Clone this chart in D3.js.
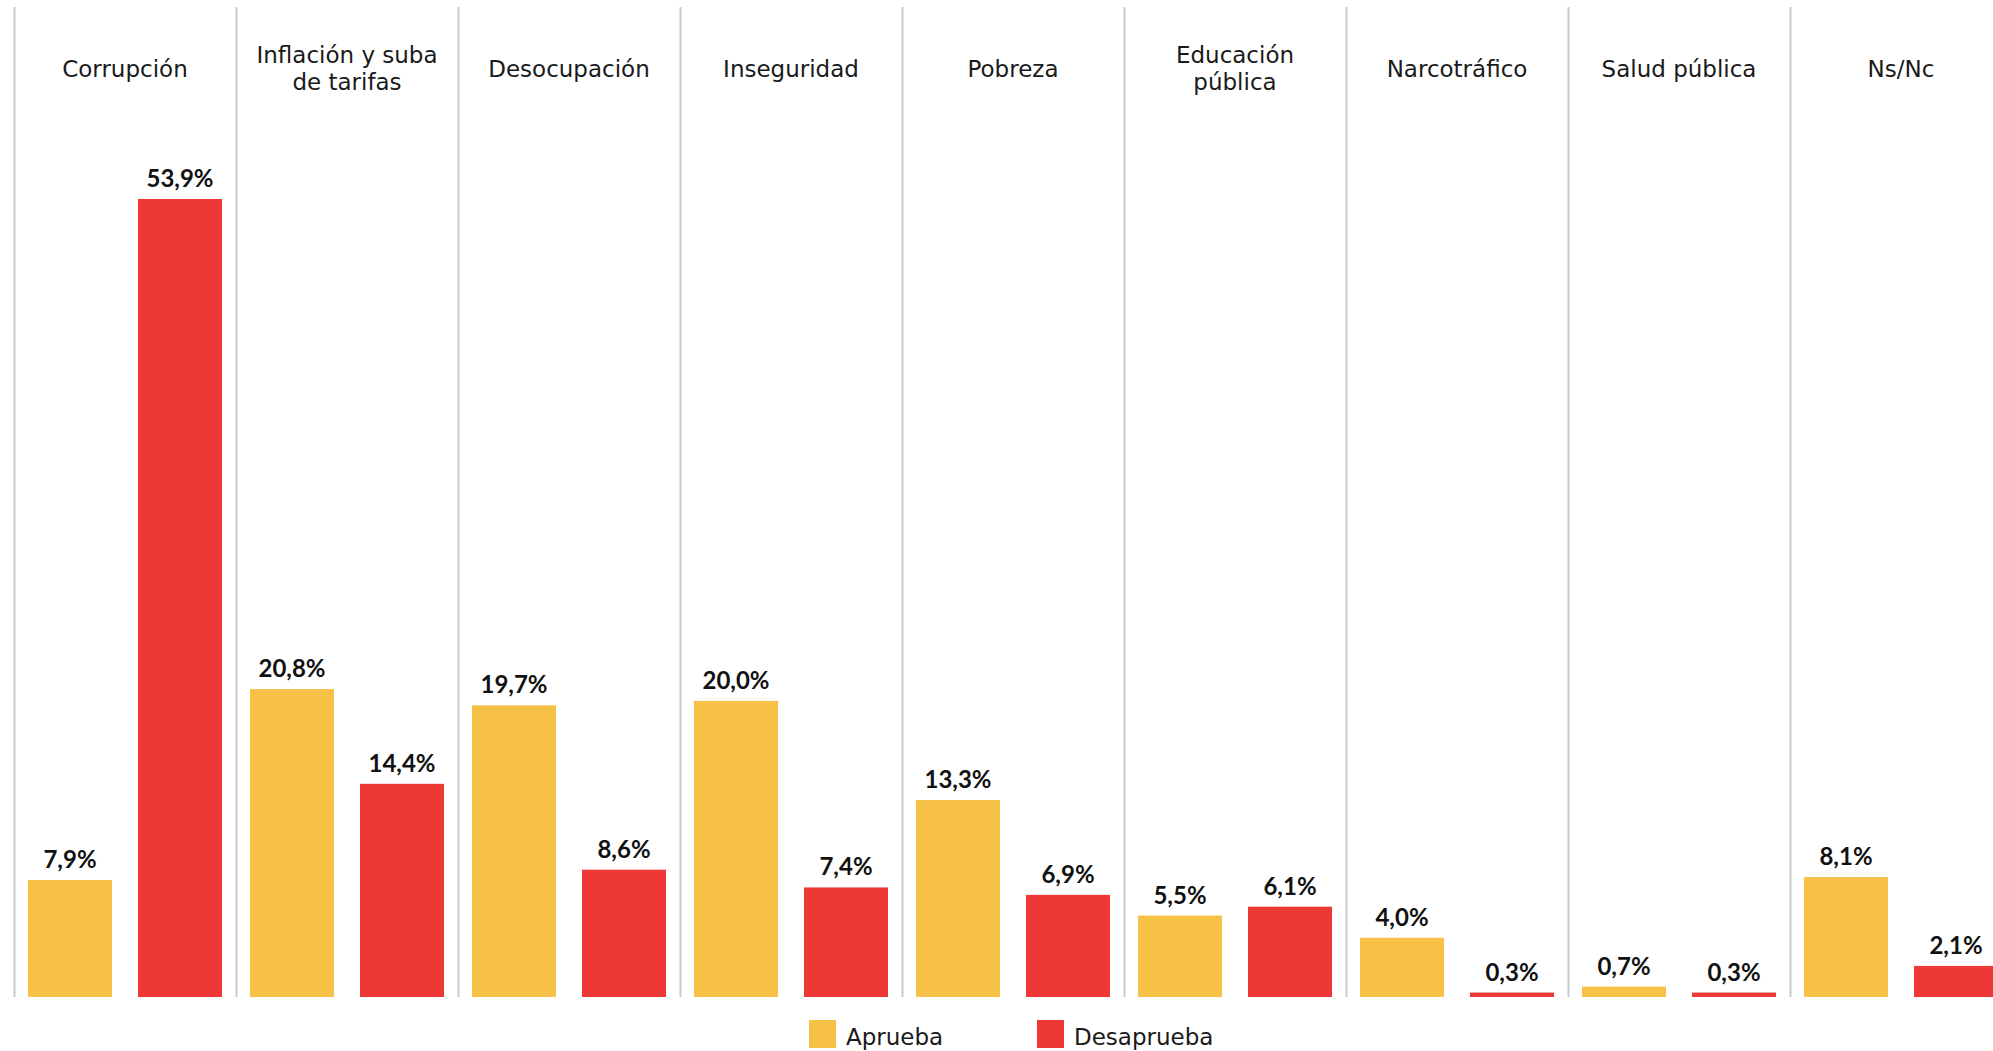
<!DOCTYPE html>
<html>
<head>
<meta charset="utf-8">
<script src="https://cdnjs.cloudflare.com/ajax/libs/d3/7.8.5/d3.min.js"></script>
<style>
  body{margin:0;background:#fff;}
  svg{display:block;}
</style>
</head>
<body>
<script>
// data
var categorias=["Corrupción","Inflación y suba\nde tarifas","Desocupación","Inseguridad","Pobreza","Educación\npública","Narcotráfico","Salud pública","Ns/Nc"]
var aprueba=[7.9,20.8,19.7,20.0,13.3,5.5,4.0,0.7,8.1]
var desaprueba=[53.9,14.4,8.6,7.4,6.9,6.1,0.3,0.3,2.1]
var series=["Aprueba","Desaprueba"]
var colores=["#F7C046","#EE3835"]

var screen={width:1993,height:1051}
var baseY=997
var catW=222
var left=14

var locale=d3.formatLocale({decimal:",",thousands:".",grouping:[3],currency:["$",""]})
var fmt=function(v){return locale.format(".1f")(v)+"%"}

var tabla=categorias.map(function(c,i){
  return {cat:c,valores:[{serie:series[0],v:aprueba[i]},{serie:series[1],v:desaprueba[i]}]}
})

var xScale=d3.scaleBand()
  .domain(categorias)
  .range([left,left+catW*categorias.length])
  .padding(0)
var xInner=d3.scaleBand()
  .domain(series)
  .range([0,xScale.bandwidth()])
  .paddingInner(0.2364)
  .paddingOuter(0.1273)
var yScale=d3.scaleLinear()
  .domain([0,53.9])
  .range([baseY,199])
var color=d3.scaleOrdinal().domain(series).range(colores)

var svg=d3.select("body").append("svg")
  .attr("width",screen.width)
  .attr("height",screen.height)

//dividers
svg.append("g")
  .selectAll("line")
  .data(categorias)
  .enter()
  .append("line")
  .attr("x1",function(d){return Math.round(xScale(d))+0.5})
  .attr("x2",function(d){return Math.round(xScale(d))+0.5})
  .attr("y1",7)
  .attr("y2",baseY)
  .style("stroke","#c9c9c9")
  .style("stroke-width",2)

//category titles
var titles=svg.append("g")
  .selectAll("text")
  .data(categorias)
  .enter()
  .append("text")
  .attr("text-anchor","middle")
  .style("font-family","'DejaVu Sans', sans-serif")
  .style("font-size","23px")
  .style("fill","#1a1a1a")
titles.each(function(d){
  var lines=d.split("\n")
  var t=d3.select(this)
  var y0=lines.length==1?77:63
  lines.forEach(function(l,j){
    t.append("tspan")
      .attr("x",xScale(d)+xScale.bandwidth()/2)
      .attr("y",y0+j*27)
      .text(l)
  })
})

//bars
var grupos=svg.append("g")
  .selectAll("g")
  .data(tabla)
  .enter()
  .append("g")
  .attr("transform",function(d){return "translate("+xScale(d.cat)+",0)"})
grupos.selectAll("rect")
  .data(function(d){return d.valores})
  .enter()
  .append("rect")
  .attr("x",function(d){return xInner(d.serie)})
  .attr("y",function(d){return yScale(d.v)})
  .attr("width",xInner.bandwidth())
  .attr("height",function(d){return baseY-yScale(d.v)})
  .attr("fill",function(d){return color(d.serie)})
grupos.selectAll("text")
  .data(function(d){return d.valores})
  .enter()
  .append("text")
  .attr("x",function(d){return xInner(d.serie)+xInner.bandwidth()/2})
  .attr("y",function(d){return yScale(d.v)-12})
  .attr("text-anchor","middle")
  .style("font-family","Lato, sans-serif")
  .style("font-weight","bold")
  .style("font-size","24px")
  .style("fill","#111")
  .text(function(d){return fmt(d.v)})

//legend
var legX=[809,1037]
var leg=svg.append("g")
  .selectAll("g")
  .data(series)
  .enter()
  .append("g")
  .attr("transform",function(d,i){return "translate("+legX[i]+",1020)"})
leg.append("rect")
  .attr("width",27)
  .attr("height",28)
  .attr("fill",function(d){return color(d)})
leg.append("text")
  .attr("x",37)
  .attr("y",25)
  .style("font-family","'DejaVu Sans', sans-serif")
  .style("font-size","23px")
  .style("fill","#1a1a1a")
  .text(function(d){return d})
</script>
</body>
</html>
